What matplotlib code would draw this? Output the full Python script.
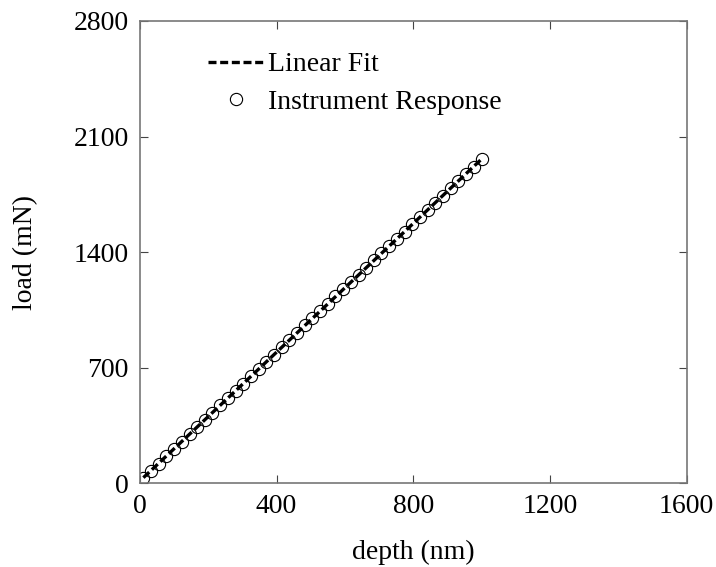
import numpy as np
from matplotlib import pyplot as plt

plt.rcParams['font.family'] = ['Liberation Serif', 'DejaVu Serif']

depth = [10, 32, 55, 77, 100, 122, 145, 167, 190, 212, 235, 257, 280, 302, 325,
         347, 370, 392, 415, 437, 460, 482, 505, 527, 550, 572, 595, 617, 640, 662,
         685, 707, 730, 752, 775, 797, 820, 842, 865, 887, 910, 932, 955, 977, 1000]
load = [30, 73, 118, 162, 206, 250, 295, 339, 384, 427, 472, 515, 560, 603, 648,
        691, 736, 779, 824, 867, 912, 955, 1000, 1043, 1088, 1131, 1176, 1219, 1263, 1306,
        1350, 1393, 1437, 1480, 1524, 1567, 1611, 1654, 1698, 1741, 1785, 1828, 1872, 1915, 1965]

xticks = [0, 400, 800, 1200, 1600]
yticks = [0, 700, 1400, 2100, 2800]

depth = np.array(depth)
load = np.array(load)

# linear fit of the instrument response
slope, intercept = np.polyfit(depth, load, 1)
fit_x = np.array([depth[0], depth[-1]])
fit_y = slope * fit_x + intercept

fig = plt.figure(figsize=(7.16, 5.67), dpi=100)
ax = fig.add_axes([0.1955, 0.148, 0.7633, 0.815])

ax.plot(fit_x, fit_y, color='black', lw=2.4, linestyle=(0, (2.4, 1.1)),
        label='Linear Fit', zorder=3)
ax.plot(depth, load, linestyle='none', marker='o', markersize=8.8,
        markerfacecolor='none', markeredgecolor='black', markeredgewidth=0.8,
        label='Instrument Response', zorder=2)

ax.set_xlim(0, 1600)
ax.set_ylim(0, 2800)
ax.set_xticks(xticks)
ax.set_yticks(yticks)
ax.tick_params(direction='in', length=6, width=0.8, labelsize=20,
               top=True, right=True, color='#444444', pad=8)
for sp in ax.spines.values():
    sp.set_color('#777777')
    sp.set_linewidth(1.2)

ax.set_xlabel('depth (nm)', fontsize=20)
ax.set_ylabel('load (mN)', fontsize=20)
ax.xaxis.set_label_coords(0.5, -0.15)
ax.xaxis.label.set_va('center')
ax.yaxis.set_label_coords(-0.21, 0.5)
ax.yaxis.label.set_va('center')

ax.legend(loc='upper left', bbox_to_anchor=(208 / 716, 1 - 52 / 567),
          bbox_transform=fig.transFigure, frameon=False, fontsize=20,
          handlelength=1.98, handletextpad=0.18, labelspacing=0.44,
          borderpad=0, borderaxespad=0)

fig.savefig('out.png', dpi=100)
